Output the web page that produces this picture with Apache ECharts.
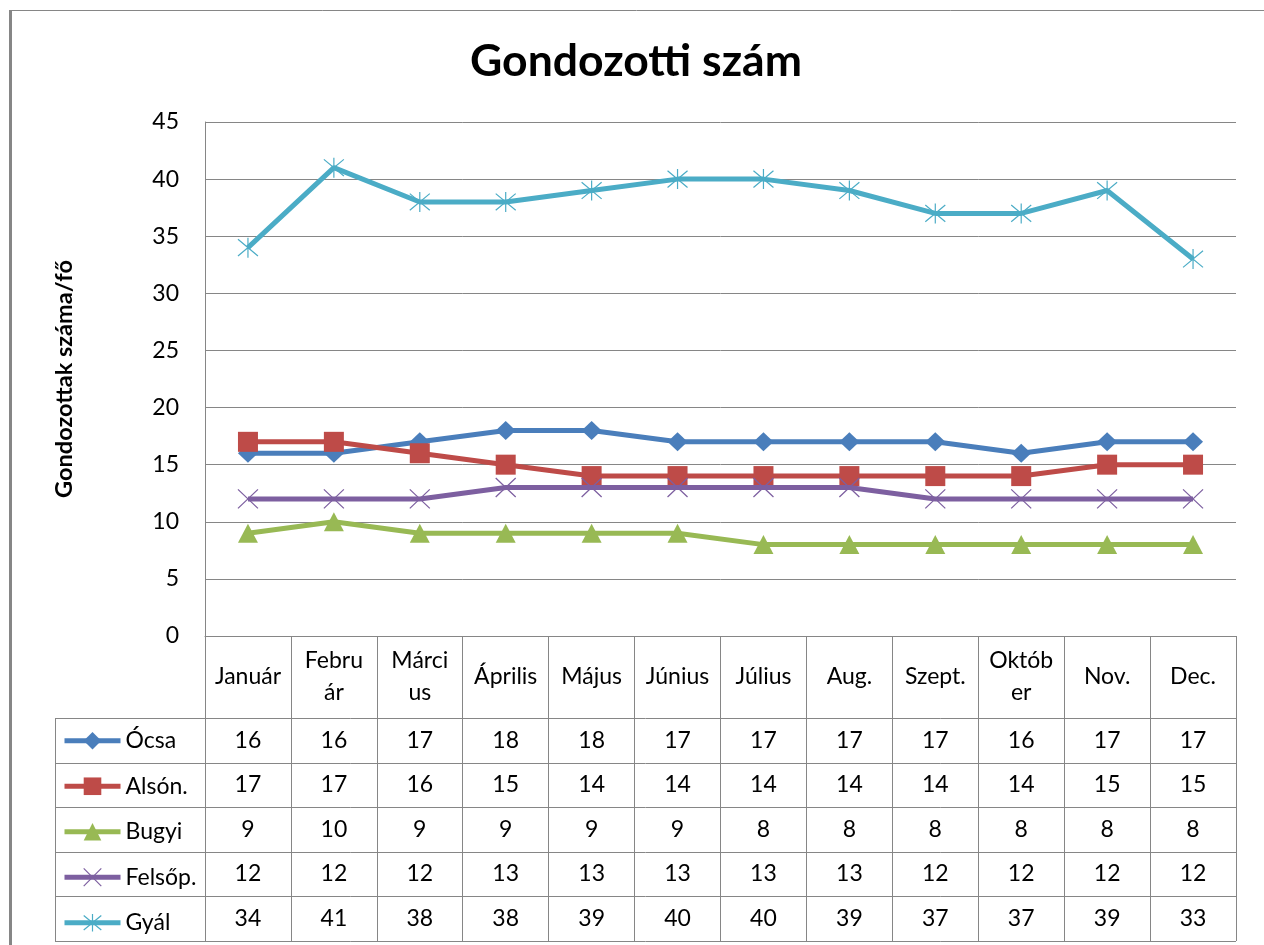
<!DOCTYPE html>
<html><head><meta charset="utf-8">
<script src="https://cdn.jsdelivr.net/npm/echarts@6/dist/echarts.min.js"></script>
<style>html,body{margin:0;padding:0;background:#fff}#c{width:1264px;height:945px}</style>
</head><body><div id="c"></div>
<script>
// ---- data ----
const categories = ['Január', 'Febru\nár', 'Márci\nus', 'Április', 'Május', 'Június', 'Július', 'Aug.', 'Szept.', 'Októb\ner', 'Nov.', 'Dec.'];
const seriesNames = ['Ócsa', 'Alsón.', 'Bugyi', 'Felsőp.', 'Gyál'];
const ocsa    = [16, 16, 17, 18, 18, 17, 17, 17, 17, 16, 17, 17];
const alson   = [17, 17, 16, 15, 14, 14, 14, 14, 14, 14, 15, 15];
const bugyi   = [9, 10, 9, 9, 9, 9, 8, 8, 8, 8, 8, 8];
const felsop  = [12, 12, 12, 13, 13, 13, 13, 13, 12, 12, 12, 12];
const gyal    = [34, 41, 38, 38, 39, 40, 40, 39, 37, 37, 39, 33];
const yMin = 0, yMax = 45, yInterval = 5;
const titleText = 'Gondozotti szám';
const yAxisName = 'Gondozottak száma/fő';

// ---- styles ----
const FONT = 'Lato';
const GRAY = '#868686';
const colors = ['#4a7ebb', '#be4b48', '#98b954', '#7d5fa0', '#4bacc6'];
const symbols = ['diamond', 'rect', 'triangle', 'path://M0,0L10,10M10,0L0,10', 'path://M0,0L10,10M10,0L0,10M5,-1L5,11'];
const symbolSizes = [[20, 19], [20, 20], [20, 19], [20, 19], [20, 20]];
const values = [ocsa, alson, bugyi, felsop, gyal];
const LINE_W = 5;

const GRID = { left: 205, right: 28, top: 122, bottom: 309 };
const headerBottom = 718;
const rowH = 44.5;
const tableLeft = 55;

const chart = echarts.init(document.getElementById('c'), null, { renderer: 'canvas' });

const series = seriesNames.map((name, k) => {
  const stroked = symbols[k].indexOf('path://') === 0;
  return {
    name: name,
    type: 'line',
    data: values[k],
    symbol: symbols[k],
    symbolSize: symbolSizes[k],
    showAllSymbol: true,
    animation: false,
    lineStyle: { color: colors[k], width: LINE_W },
    itemStyle: stroked
      ? { color: 'rgba(0,0,0,0)', borderColor: colors[k], borderWidth: 1.2 }
      : { color: colors[k], borderWidth: 0 },
    emphasis: { disabled: true },
    z: 3 + k
  };
});

chart.setOption({
  animation: false,
  backgroundColor: '#fff',
  textStyle: { fontFamily: FONT },
  grid: GRID,
  legend: {
    orient: 'vertical',
    left: 62,
    padding: 0,
    top: headerBottom + rowH / 2 - 11,
    itemWidth: 56,
    itemHeight: 22,
    itemGap: rowH - 22,
    selectedMode: false,
    lineStyle: { width: LINE_W },
    data: seriesNames.map((n, k) => ({
      name: n,
      itemStyle: symbols[k].indexOf('path://') === 0 ? { borderWidth: 1.2, borderColor: colors[k], color: 'rgba(0,0,0,0)' } : { borderWidth: 0 }
    })),
    textStyle: { fontFamily: FONT, fontSize: 23, color: '#000', lineHeight: 22 }
  },
  xAxis: {
    type: 'category',
    data: categories,
    boundaryGap: true,
    axisLine: { show: true, lineStyle: { color: GRAY, width: 1 } },
    axisTick: { show: true, interval: 0, length: 945 - 4 - (945 - GRID.bottom), lineStyle: { color: GRAY, width: 1 } },
    axisLabel: {
      interval: 0, margin: 41, verticalAlign: 'middle',
      fontFamily: FONT, fontSize: 23, color: '#000', lineHeight: 32
    },
    splitLine: { show: false }
  },
  yAxis: {
    type: 'value',
    min: yMin, max: yMax, interval: yInterval,
    name: yAxisName,
    nameLocation: 'middle',
    nameRotate: 90,
    nameGap: 129,
    nameTextStyle: { fontFamily: FONT, fontSize: 23.5, fontWeight: 'bold', color: '#000' },
    axisLine: { show: true, lineStyle: { color: GRAY, width: 1 } },
    axisTick: { show: false },
    axisLabel: { margin: 26, fontFamily: FONT, fontSize: 23, color: '#000' },
    splitLine: { show: true, lineStyle: { color: GRAY, width: 1 } }
  },
  series: series
});

// ---- table & decorations ----
const g = [];
// outer chart border
g.push({ type: 'line', silent: true, shape: { x1: 9, y1: 10.5, x2: 1264, y2: 10.5 }, style: { stroke: GRAY, lineWidth: 1 } });
g.push({ type: 'line', silent: true, shape: { x1: 10.5, y1: 10, x2: 10.5, y2: 945 }, style: { stroke: GRAY, lineWidth: 3 } });
// title
g.push({ type: 'text', silent: true, x: 636, y: 62, style: { text: titleText, font: 'bold 44.5px ' + FONT, fill: '#000', align: 'center', verticalAlign: 'middle' } });

const plotRight = 1264 - GRID.right;
// horizontal lines of the data table
for (let r = 0; r <= seriesNames.length; r++) {
  const y = Math.round(headerBottom + rowH * r) + 0.5;
  g.push({ type: 'line', silent: true, shape: { x1: tableLeft, y1: y, x2: plotRight, y2: y }, style: { stroke: GRAY, lineWidth: 1 } });
}
// left border of the legend column
g.push({ type: 'line', silent: true, shape: { x1: tableLeft + 0.5, y1: headerBottom, x2: tableLeft + 0.5, y2: Math.round(headerBottom + rowH * seriesNames.length) + 1 }, style: { stroke: GRAY, lineWidth: 1 } });

// values
values.forEach((arr, r) => {
  const y = headerBottom + rowH * (r + 0.5);
  arr.forEach((v, i) => {
    const x = chart.convertToPixel({ xAxisIndex: 0 }, i);
    g.push({ type: 'text', silent: true, x: x, y: y, style: { text: String(v), font: '23px ' + FONT, fill: '#000', align: 'center', verticalAlign: 'middle' } });
  });
});

chart.setOption({ graphic: g });
</script>
</body></html>
